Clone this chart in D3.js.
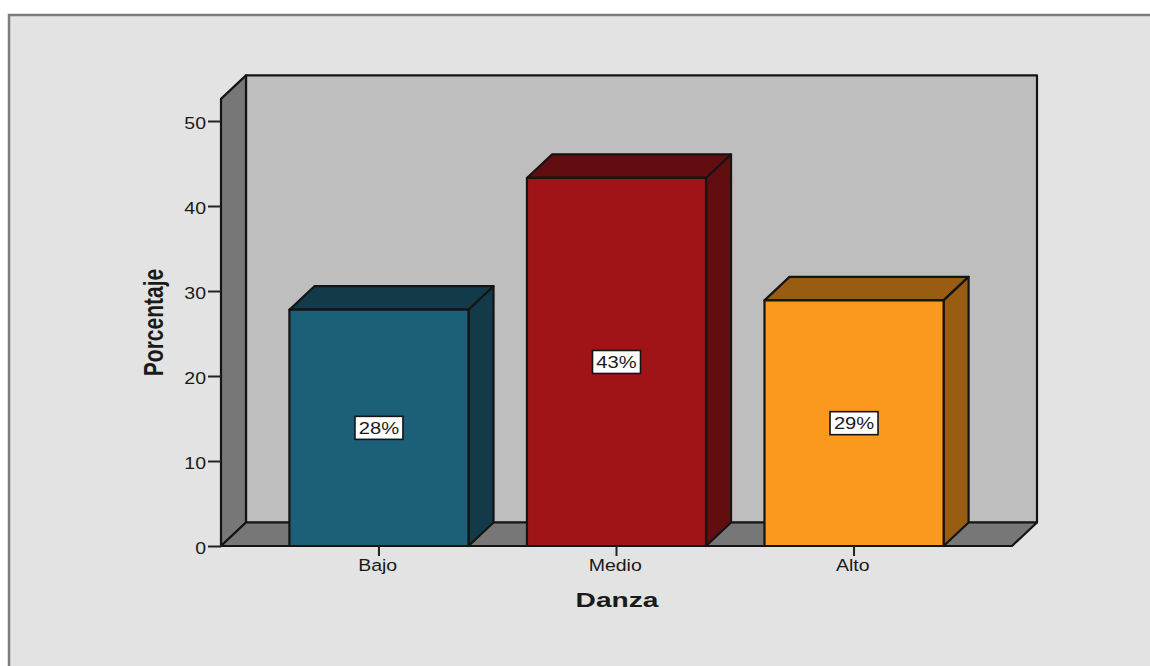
<!DOCTYPE html>
<html><head><meta charset="utf-8">
<script src="https://cdn.jsdelivr.net/npm/d3@7/dist/d3.min.js"></script>
<style>html,body{margin:0;padding:0;background:#fff;overflow:hidden}svg{display:block}text{font-family:"Liberation Sans",Arial,sans-serif;fill:#1a1a1a}</style>
</head><body><svg id="c" width="1150" height="666"></svg>
<script>
const categories = ["Bajo","Medio","Alto"];
const values = [27.8,43.3,28.9];
const valueLabels = ["28%","43%","29%"];
const frontColors = ["#1c5f78","#a01417","#fb981e"];
const sideColors = ["#123a48","#620e10","#985c12"];
const topColors = ["#123a48","#620e10","#985c12"];
const yTicks = [0,10,20,30,40,50];
const xTitle = "Danza", yTitle = "Porcentaje";

const svg = d3.select("#c");
const x0=221,x1=1012,yb=546,dx=25,dy=23.5;
const y = d3.scaleLinear().domain([0,50]).range([546,121]);
const x = d3.scaleBand().domain(categories).range([x0,x1]).paddingInner(0.246).paddingOuter(0.288);
const yTop = y(52.6);
const line = "#141414";
const sx = 1.3, sy = 1.1;
svg.append("rect").attr("x",9).attr("y",15).attr("width",1145).attr("height",660).attr("fill","#e3e3e3").attr("stroke","#7d7d7d").attr("stroke-width",2.5);
const poly=(pts,f,sw=2.2)=>svg.append("path").attr("d","M"+pts.map(p=>p.join(",")).join("L")+"Z").attr("fill",f).attr("stroke",line).attr("stroke-width",sw).attr("stroke-linejoin","round");
// walls
poly([[x0+dx,yTop-dy],[x1+dx,yTop-dy],[x1+dx,yb-dy],[x0+dx,yb-dy]],"#bebebe");
poly([[x0,yTop],[x0+dx,yTop-dy],[x0+dx,yb-dy],[x0,yb]],"#777777");
poly([[x0,yb],[x0+dx,yb-dy],[x1+dx,yb-dy],[x1,yb]],"#777777");
// bars
categories.forEach((c,i)=>{
  const a=x(c),b=a+x.bandwidth(),t=y(values[i]);
  poly([[a,t],[a+dx,t-dy],[b+dx,t-dy],[b,t]],topColors[i]);
  poly([[b,t],[b+dx,t-dy],[b+dx,yb-dy],[b,yb]],sideColors[i]);
  poly([[a,t],[b,t],[b,yb],[a,yb]],frontColors[i]);
  const cx=a+x.bandwidth()/2, cy=(t+yb)/2;
  svg.append("rect").attr("x",cx-24).attr("y",cy-11.5).attr("width",48).attr("height",23).attr("fill","#fff").attr("stroke",line).attr("stroke-width",1.6);
  svg.append("text").attr("transform",`translate(${cx},${cy+6}) scale(${sx},${sy})`).attr("text-anchor","middle").attr("font-size",15.5).text(valueLabels[i]);
});
// axes
const ay = svg.append("g").attr("transform",`translate(${x0},0)`).call(d3.axisLeft(y).tickValues(yTicks).tickSize(13).tickPadding(2).tickFormat(d3.format("d")));
ay.select(".domain").remove();
ay.selectAll("line").attr("stroke","#222").attr("stroke-width",2);
ay.selectAll("text").attr("font-size",15).attr("x",-15/sx).attr("dy","0.36em").attr("y",1.5).attr("transform",`scale(${sx},${sy})`).style("fill","#1a1a1a");
const ax = svg.append("g").attr("transform",`translate(0,${yb})`).call(d3.axisBottom(x).tickSize(10).tickPadding(3));
ax.select(".domain").remove();
ax.selectAll("line").attr("stroke","#222").attr("stroke-width",2);
ax.selectAll("text").attr("font-size",15).attr("y",12.5).attr("x",-1).attr("transform",`scale(${sx},${sy})`).style("fill","#1a1a1a");
svg.append("text").attr("transform","translate(617,607) scale(1.34,1)").attr("text-anchor","middle").attr("font-weight","bold").attr("font-size",21).text(xTitle);
svg.append("text").attr("transform","translate(162.5,322.5) rotate(-90) scale(1,1.3)").attr("text-anchor","middle").attr("font-weight","bold").attr("font-size",21).text(yTitle);
</script></body></html>
